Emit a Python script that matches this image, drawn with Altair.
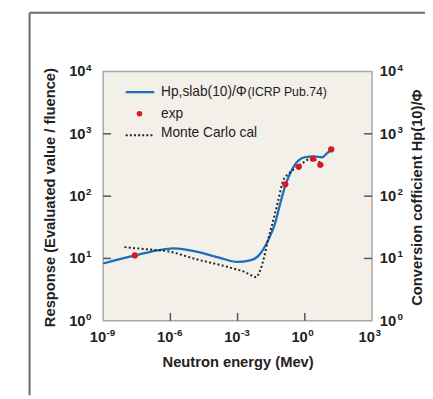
import altair as alt
import pandas as pd

# ---- data ----
blue_energy = [1e-9, 2.6e-8, 5e-7, 1.4e-6, 1.45e-5, 1.5e-4, 1e-3, 3.2e-3, 8.5e-3, 1.7e-2, 2.8e-2,
               4.7e-2, 7.6e-2, 0.126, 0.21, 0.41, 0.95, 2.6, 6.0, 10.0, 19.5]
blue_value = [8.3, 11.2, 14.0, 14.5, 12.9, 10.3, 8.8, 9.2, 11.0, 15.8, 22.6,
              36.6, 71, 137, 222, 340, 420, 433, 420, 490, 600]

mc_energy = [8.9e-9, 9.3e-8, 7.1e-7, 1.45e-5, 4.2e-4, 2.2e-3, 5e-3, 6.8e-3, 9e-3, 1.3e-2, 2.3e-2,
             3.9e-2, 6.5e-2, 0.107, 0.21, 0.35, 0.79, 1.86, 3.6, 7.6]
mc_value = [15.2, 14.0, 13.1, 9.7, 7.2, 6.0, 5.2, 5.0, 5.8, 8.4, 20,
            41, 85, 175, 236, 277, 340, 398, 370, 296]

exp_energy = [2.6e-8, 0.135, 0.54, 2.3, 4.9, 15.0]
exp_value = [11.2, 155, 295, 398, 318, 563]

x_ticks = [1e-9, 1e-6, 1e-3, 1, 1e3]
x_tick_base = ['10', '10', '10', '10', '10']
x_tick_exp = ['-9', '-6', '-3', '0', '3']
x_inner_ticks = [1e-6, 1e-3, 1]
y_ticks = [1, 10, 100, 1000, 10000]
y_tick_base = ['10', '10', '10', '10', '10']
y_tick_exp = ['0', '1', '2', '3', '4']
y_inner_ticks = [10, 100, 1000]

legend_labels = ['Hp,slab(10)/Φ', 'exp', 'Monte Carlo cal']
legend_suffix = '(ICRP Pub.74)'
x_title = 'Neutron energy (Mev)'
y_title = 'Response (Evaluated value / fluence)'
y2_title = 'Conversion cofficient Hp(10)/Φ'

FONT = 'Liberation Sans'
TXT = '#222222'
W, H = 274, 254

xscale = alt.Scale(type='log', domain=[1e-9, 1e3], nice=False)
yscale = alt.Scale(type='log', domain=[1, 1e4], nice=False)

blue_df = pd.DataFrame({'E': blue_energy, 'v': blue_value})
mc_df = pd.DataFrame({'E': mc_energy, 'v': mc_value})
exp_df = pd.DataFrame({'E': exp_energy, 'v': exp_value})
xlab_df = pd.DataFrame({'E': x_ticks, 'b': x_tick_base, 'e': x_tick_exp})
ylab_df = pd.DataFrame({'v': y_ticks, 'b': y_tick_base, 'e': y_tick_exp})

title_kw = dict(titleFont=FONT, titleFontWeight='bold', titleFontSize=15, titleColor=TXT)
x_axis = alt.Axis(values=x_ticks, labels=False, ticks=False, domain=False, grid=False,
                  title=x_title, titleX=W / 2, titleY=42, titleBaseline='middle', **title_kw)
y_axis = alt.Axis(values=y_ticks, labels=False, ticks=False, domain=False, grid=False,
                  title=y_title, titleX=-55, titleY=128, titleAngle=270,
                  titleBaseline='middle', titleAlign='center', **title_kw)
y2_axis = alt.Axis(orient='right', values=y_ticks, labels=False, ticks=False, domain=False, grid=False,
                   title=y2_title, titleX=45, titleY=128, titleAngle=270,
                   titleBaseline='middle', titleAlign='center', **title_kw)

blue = alt.Chart(blue_df).mark_line(color='#1a6fb8', strokeWidth=2.3, interpolate='monotone').encode(
    x=alt.X('E:Q', scale=xscale, axis=x_axis),
    y=alt.Y('v:Q', scale=yscale, axis=y_axis),
)
mc = alt.Chart(mc_df).mark_line(color='#222', strokeWidth=2, strokeDash=[2, 2.4],
                                interpolate='monotone').encode(
    x=alt.X('E:Q', scale=xscale), y=alt.Y('v:Q', scale=yscale))
pts = alt.Chart(exp_df).mark_circle(color='#d71920', size=40, opacity=1).encode(
    x=alt.X('E:Q', scale=xscale), y=alt.Y('v:Q', scale=yscale))

# inward ticks
xt = alt.Chart(pd.DataFrame({'E': x_inner_ticks})).mark_rule(color='#555', strokeWidth=1.5).encode(
    x=alt.X('E:Q', scale=xscale), y=alt.value(H), y2=alt.value(H - 8))
ytl = alt.Chart(pd.DataFrame({'v': y_inner_ticks})).mark_rule(color='#555', strokeWidth=1.5).encode(
    y=alt.Y('v:Q', scale=yscale), x=alt.value(0), x2=alt.value(8))
ytr = alt.Chart(pd.DataFrame({'v': y_inner_ticks})).mark_rule(color='#555', strokeWidth=1.5).encode(
    y=alt.Y('v:Q', scale=yscale, axis=y2_axis), x=alt.value(W - 8), x2=alt.value(W))

# tick labels: "10" with a raised exponent
base_kw = dict(font=FONT, fontWeight='bold', fontSize=15, color=TXT, baseline='middle', clip=False)
exp_kw = dict(font=FONT, fontWeight='bold', fontSize=10, color=TXT, baseline='middle', clip=False)
xl_b = alt.Chart(xlab_df).mark_text(align='right', dx=3, **base_kw).encode(
    x=alt.X('E:Q', scale=xscale), y=alt.value(H + 17), text='b:N')
xl_e = alt.Chart(xlab_df).mark_text(align='left', dx=3.5, dy=-4, **exp_kw).encode(
    x=alt.X('E:Q', scale=xscale), y=alt.value(H + 17), text='e:N')
yl_b = alt.Chart(ylab_df).mark_text(align='right', **base_kw).encode(
    y=alt.Y('v:Q', scale=yscale), x=alt.value(-18), text='b:N')
yl_e = alt.Chart(ylab_df).mark_text(align='left', dx=0.5, dy=-4, **exp_kw).encode(
    y=alt.Y('v:Q', scale=yscale), x=alt.value(-18), text='e:N')
yr_b = alt.Chart(ylab_df).mark_text(align='left', **base_kw).encode(
    y=alt.Y('v:Q', scale=yscale), x=alt.value(W + 8), text='b:N')
yr_e = alt.Chart(ylab_df).mark_text(align='left', dy=-4, **exp_kw).encode(
    y=alt.Y('v:Q', scale=yscale), x=alt.value(W + 26), text='e:N')

# legend
one = pd.DataFrame({'a': [0]})
leg_line = alt.Chart(one).mark_rule(color='#1a6fb8', strokeWidth=2.3).encode(
    x=alt.value(23), x2=alt.value(52), y=alt.value(21))
leg_dot = alt.Chart(one).mark_circle(color='#d71920', size=32, opacity=1).encode(
    x=alt.value(37), y=alt.value(43))
leg_dash = alt.Chart(one).mark_rule(color='#222', strokeWidth=2, strokeDash=[2, 2.2]).encode(
    x=alt.value(23), x2=alt.value(52), y=alt.value(65))
leg_text = alt.Chart(pd.DataFrame({'t': legend_labels, 'y': [21, 43, 63]})).mark_text(
    align='left', baseline='middle', font=FONT, fontSize=14, color=TXT).encode(
    x=alt.value(59), y=alt.Y('y:Q', scale=None), text='t:N')
leg_suffix = alt.Chart(pd.DataFrame({'t': [legend_suffix]})).mark_text(
    align='left', baseline='middle', font=FONT, fontSize=12.5, color=TXT).encode(
    x=alt.value(147), y=alt.value(21), text='t:N')

# outer frame of the figure
frame_v = alt.Chart(one).mark_rule(color='#6b6b6b', strokeWidth=2, clip=False).encode(
    x=alt.value(-75), y=alt.value(-60), y2=alt.value(330))
frame_h = alt.Chart(one).mark_rule(color='#6b6b6b', strokeWidth=2, clip=False).encode(
    x=alt.value(-75), x2=alt.value(330), y=alt.value(-60))

left = alt.layer(blue, mc, pts, xt, ytl, xl_b, xl_e, yl_b, yl_e, yr_b, yr_e,
                 leg_line, leg_dot, leg_dash, leg_text, leg_suffix, frame_v, frame_h)
chart = alt.layer(left, ytr).resolve_scale(y='independent').properties(
    width=W, height=H,
    autosize=alt.AutoSizeParams(type='none'),
    padding={'left': 97, 'top': 61, 'right': 54, 'bottom': 76},
).configure_view(fill='#f3f0e9', stroke='#a8a8a8', strokeWidth=1.5)

chart.save('out.html', embed_options={'renderer': 'svg', 'actions': False})
